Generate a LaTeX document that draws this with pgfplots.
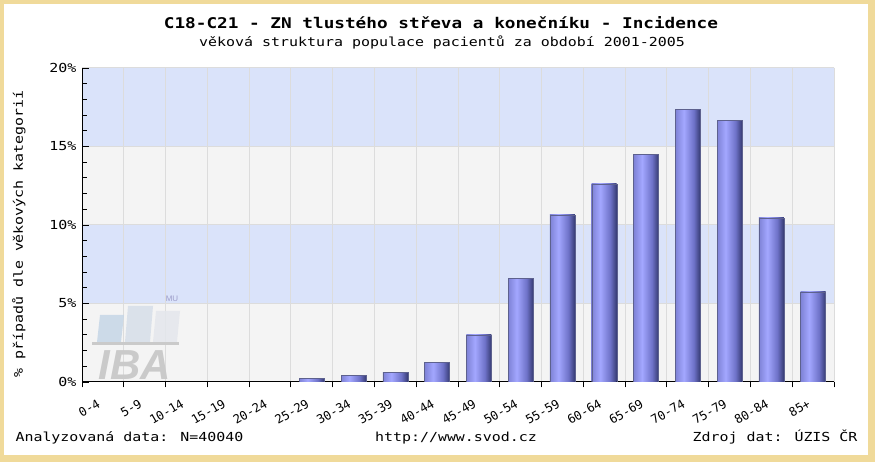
\documentclass[border=0pt]{standalone}
\usepackage{fontspec}
\usepackage{pgfplots}
\pgfplotsset{compat=1.18}
\newfontfamily\pix[FakeStretch=1.2]{DejaVu Sans Mono}
\newfontfamily\pixtick{DejaVu Sans Mono}
\newfontfamily\logofont{Liberation Sans}
\newcommand\pixn{\pix\fontsize{12.45bp}{14bp}\selectfont}

\definecolor{frame}{HTML}{F0DA9A}
\definecolor{bandblue}{HTML}{DAE3FA}
\definecolor{bandgray}{HTML}{F4F4F4}
\definecolor{gridgray}{HTML}{DCDCDC}
\definecolor{bl1}{HTML}{7E82D6}
\definecolor{bl2}{HTML}{A3A7FF}
\definecolor{bl3}{HTML}{6E72C8}
\definecolor{bl4}{HTML}{353A72}
\definecolor{logo1}{HTML}{C5D6E6}
\definecolor{logo2}{HTML}{D6DEE9}
\definecolor{logo3}{HTML}{E4E7EC}
\definecolor{logogray}{HTML}{CACACA}
% tikz maps 25bp..75bp of a shading onto the path
\pgfdeclarehorizontalshading{barshade}{100bp}{color(0bp)=(bl1); color(25bp)=(bl1); color(42bp)=(bl2); color(62bp)=(bl3); color(75bp)=(bl4); color(100bp)=(bl4)}
\pgfdeclareverticalshading{bands}{100bp}{color(0bp)=(bandgray); color(37.5bp)=(bandgray); color(37.5bp)=(bandblue); color(50bp)=(bandblue); color(50bp)=(bandgray); color(62.5bp)=(bandgray); color(62.5bp)=(bandblue); color(100bp)=(bandblue)}

\pgfplotsset{bar/.style={ybar, bar width=25bp, shading=barshade, draw=bl4!80, line width=0.4bp}}

\begin{document}
\begin{tikzpicture}
\fill[frame] (0,0) rectangle (875bp,462bp);
\fill[white] (4bp,7bp) rectangle (868bp,458bp);

\node[font={\pix\bfseries\fontsize{14.75bp}{16bp}\selectfont}] at (441bp,439bp) {C18-C21 - ZN tlustého střeva a konečníku - Incidence};
\node[font=\pixn] at (442bp,420bp) {věková struktura populace pacientů za období 2001-2005};

\begin{axis}[
  at={(82bp,80bp)}, anchor=south west,
  scale only axis,
  width=752bp, height=314bp,
  xmin=-0.5, xmax=17.5,
  ymin=0, ymax=20,
  axis background/.style={shading=bands},
  axis x line*=bottom, axis y line*=left,
  axis line style={-, black, line width=1bp},
  xtick={0,...,17},
  xticklabels={0-4,5-9,10-14,15-19,20-24,25-29,30-34,35-39,40-44,45-49,50-54,55-59,60-64,65-69,70-74,75-79,80-84,85+},
  major x tick style={draw=none},
  minor xtick={-0.5,0.5,...,17.5},
  xtick align=outside,
  minor x tick style={black, line width=0.8bp},
  xminorgrids=true,
  minor x grid style={gridgray, line width=1bp},
  xticklabel style={font={\pixtick\fontsize{12.2bp}{13bp}\selectfont}, xshift=-3bp, yshift=-13bp, rotate=30, anchor=east, inner sep=1bp},
  ytick={0,5,10,15,20},
  yticklabels={0\%,5\%,10\%,15\%,20\%},
  minor y tick num=4,
  ytick align=inside,
  major tick length=7bp,
  minor tick length=5.5bp,
  y tick style={black, line width=0.8bp},
  ymajorgrids=true,
  major y grid style={gridgray, line width=1bp},
  yticklabel style={font=\pixn, xshift=-2bp},
]
% age groups 0-4 .. 20-24 have 0 %
\addplot[ybar, bar width=25bp, draw=none, forget plot] coordinates {(0,0) (1,0) (2,0) (3,0) (4,0)};
% one plot per bar, so every bar gets its own shading
\addplot[bar] coordinates {(5,0.25)};
\addplot[bar] coordinates {(6,0.43)};
\addplot[bar] coordinates {(7,0.62)};
\addplot[bar] coordinates {(8,1.27)};
\addplot[bar] coordinates {(9,3.0)};
\addplot[bar] coordinates {(10,6.6)};
\addplot[bar] coordinates {(11,10.64)};
\addplot[bar] coordinates {(12,12.63)};
\addplot[bar] coordinates {(13,14.48)};
\addplot[bar] coordinates {(14,17.35)};
\addplot[bar] coordinates {(15,16.67)};
\addplot[bar] coordinates {(16,10.45)};
\addplot[bar] coordinates {(17,5.75)};
\end{axis}

% IBA watermark
\fill[logogray] (92bp,117bp) rectangle (179bp,120bp);
\fill[logo1, opacity=0.85] (97bp,120bp) -- (121bp,120bp) -- (124bp,147bp) -- (100bp,147bp) -- cycle;
\fill[logo2, opacity=0.85] (125bp,120bp) -- (150bp,120bp) -- (153bp,156bp) -- (128bp,156bp) -- cycle;
\fill[logo3, opacity=0.85] (153bp,120bp) -- (177bp,120bp) -- (180bp,151bp) -- (156bp,151bp) -- cycle;
\node[font={\logofont\bfseries\itshape\fontsize{42bp}{44bp}\selectfont}, text=logogray] at (135bp,97bp) {IBA};
\node[font={\logofont\fontsize{8bp}{9bp}\selectfont}, text=blue!30!gray!60] at (172bp,163bp) {MU};

\node[font=\pixn, rotate=90] at (19bp,228bp) {\% případů dle věkových kategorií};
\node[font=\pixn, anchor=base west] at (12bp,21bp) {Analyzovaná data: N=40040};
\node[font=\pixn, anchor=base] at (456bp,21bp) {http://www.svod.cz};
\node[font=\pixn, anchor=base east] at (861bp,21bp) {Zdroj dat: ÚZIS ČR};
\useasboundingbox (0,0) rectangle (875bp,462bp);
\end{tikzpicture}
\end{document}
